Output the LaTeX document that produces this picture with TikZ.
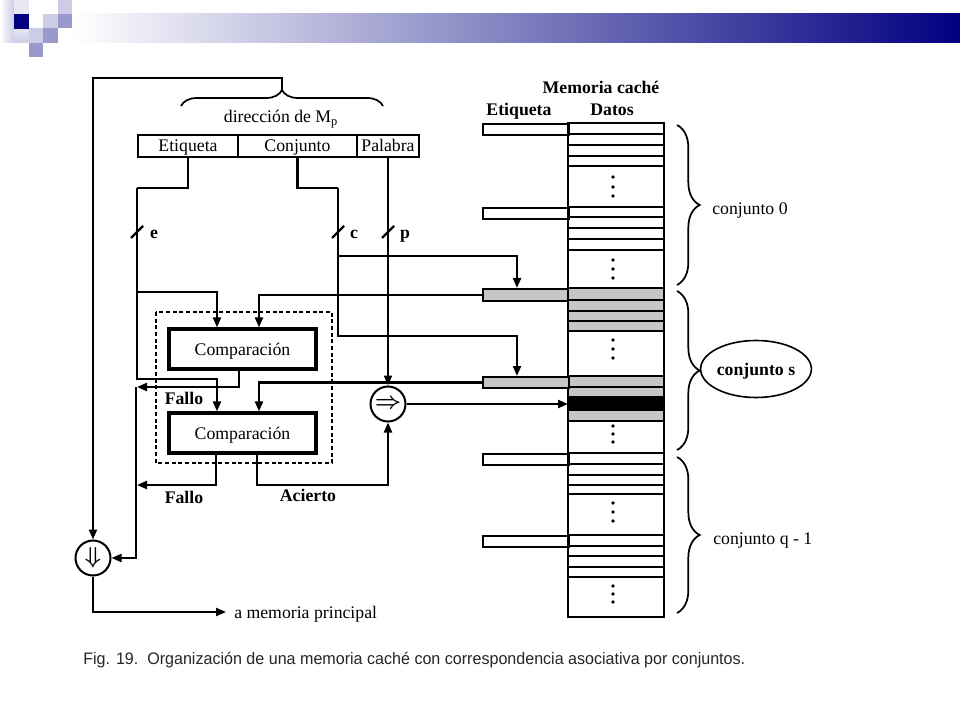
\documentclass[tikz,border=0pt]{standalone}
\usepackage{fontspec}
\setmainfont{Liberation Serif}
\newfontfamily\capfont{Liberation Sans}
\usetikzlibrary{arrows.meta,decorations.pathreplacing,shapes.geometric,calc}
\definecolor{navy}{HTML}{000080}
\definecolor{lavA}{HTML}{CCCCE6}
\definecolor{lavB}{HTML}{9999CC}
\begin{document}
\begin{tikzpicture}[x=0.75pt,y=-0.75pt,
  wire/.style={line width=1.6pt},
  arr/.style={wire,-{Triangle[length=7.5pt,width=6pt]}},
  txt/.style={inner sep=0pt,text height=10pt,text depth=1pt,font=\fontsize{13.3}{15}\selectfont},
  btxt/.style={inner sep=0pt,text height=10pt,text depth=1pt,font=\fontsize{13.3}{15}\selectfont\bfseries},
  field/.style={draw,line width=2pt,minimum height=22*0.75pt,inner sep=0pt,text height=10pt,text depth=1pt,font=\fontsize{13.3}{15}\selectfont},
  cmpbox/.style={draw,line width=2.4pt,minimum width=147*0.75pt,minimum height=40*0.75pt,inner sep=0pt,text height=10pt,text depth=1pt,font=\fontsize{13.3}{15}\selectfont},
  opcirc/.style={circle,draw,line width=1.5pt,minimum size=35*0.75pt,inner sep=0pt,font=\fontsize{17}{18}\selectfont\boldmath},
  tagrow/.style={draw,line width=1.4pt,minimum width=86*0.75pt,minimum height=11*0.75pt,inner sep=0pt,anchor=north west},
  shtag/.style={tagrow,fill=gray!45},
  rowline/.style={line width=1.4pt},
  cdot/.style={circle,fill,inner sep=0pt,minimum size=2.8pt},
  bracedec/.style={decorate,decoration={brace,amplitude=#1,aspect=0.5},line width=1.3pt},
]
\fill[white] (0,0) rectangle (960,720);
\useasboundingbox (0,0) rectangle (960,720);

% header decoration
\shade[left color=white,middle color=navy!20,right color=navy] (72,14) rectangle (960,43);
\shade[left color=white,right color=lavA] (0,0) rectangle (14,43);
\fill[lavA!45] (14,0) rectangle (29,14);
\shade[top color=lavA!50,bottom color=lavA] (14,29) rectangle (29,43);
\fill[navy] (14,14) rectangle (29,29);
\fill[lavA] (58,0) rectangle (72,14);
\fill[lavA] (43,14) rectangle (57.5,28.5);
\fill[lavB] (57.5,14) rectangle (72,28.5);
\fill[lavB] (43,28.5) rectangle (57.5,43);
\fill[lavA] (29,28.5) rectangle (43,43);
\fill[lavB] (29,43) rectangle (43,57);

% address
\node[field,minimum width=100*0.75pt] (etiq) at (188,146) {Etiqueta};
\node[field,minimum width=119*0.75pt] (conj) at (297.5,146) {Conjunto};
\node[field,minimum width=62*0.75pt] (pal) at (388,146) {Palabra};
\draw[bracedec=12pt] (181,106) -- (383,106);
\node[txt] (dir) at (281,117) {dirección de M\textsubscript{p}};
\coordinate (btip) at (282,90);

% comparators
\draw[line width=1.1pt,dash pattern=on 3pt off 2pt] (156,312) rectangle (332,463);
\node[cmpbox] (comp1) at (242.5,349) {Comparación};
\node[cmpbox] (comp2) at (242.5,433) {Comparación};
\node[opcirc] (circR) at (388,404) {$\Rightarrow$};
\node[opcirc] (circD) at (93,558) {$\Downarrow$};

% cache memory
\node[btxt] (mc) at (601,88) {Memoria caché};
\node[btxt] (et) at (519,110) {Etiqueta};
\node[btxt] (da) at (612,110) {Datos};
\draw[rowline] (568,123) rectangle (664,617);
% conjunto 0
\node[tagrow] (t0a) at (482,123) {};
\node[tagrow] (t0b) at (482,207) {};
\foreach \y in {134,145,156,166,207,217,228,239,250} \draw[rowline] (568,\y) -- (664,\y);
\foreach \y in {177,187,196,260,269,278} \node[cdot] at (613,\y) {};
% conjunto s
\node[shtag,minimum height=12*0.75pt] (tS1) at (482,288) {};
\foreach \a/\b in {288/300,300/311,311/321,321/331,376/387,387/397,410/421}
  \draw[rowline,fill=gray!45] (568,\a) rectangle (664,\b);
\draw[rowline,fill=black] (568,397) rectangle (664,410);
\node[shtag] (tS2) at (482,376) {};
\foreach \y in {340,349,358,426,434,442} \node[cdot] at (613,\y) {};
% conjunto q-1
\node[tagrow] (tQa) at (482,453) {};
\node[tagrow] (tQb) at (482,535) {};
\foreach \y in {453,464,475,485,494,535,546,556,567,577} \draw[rowline] (568,\y) -- (664,\y);
\foreach \y in {503,512,521,586,594,602} \node[cdot] at (613,\y) {};

% braces and set labels
\draw[bracedec=17pt] (677,125) -- (677,285);
\draw[bracedec=17pt] (677,291) -- (677,450);
\draw[bracedec=17pt] (677,457) -- (677,613);
\node[txt,anchor=west] (k0) at (712,209) {conjunto 0};
\node[draw,ellipse,line width=1.2pt,minimum width=96*0.75pt,minimum height=57*0.75pt,inner sep=0pt,text height=10pt,text depth=1pt,font=\fontsize{13.3}{15}\selectfont\bfseries] (ks) at (756,369) {conjunto s};
\node[txt,anchor=west] (kq) at (713,538) {conjunto q - 1};

% helper x positions
\coordinate (xA) at (217,0);
\coordinate (xB) at (259,0);
\coordinate (xC) at (517,0);
\coordinate (xF1) at (239,0);
\coordinate (xF2) at (216,0);
\coordinate (xAc) at (257,0);
\coordinate (ej) at (137,188);
\coordinate (cj) at (338,188);

% connectors
\draw[arr] (btip) |- (93,78) -- (circD.north);
\draw[wire] (etiq.south) |- (ej);
\draw[arr] (ej) -- (137,379) -- (217,379) -- (xA |- comp2.north);
\draw[arr] (137,292) -- (217,292) -- (xA |- comp1.north);
\draw[wire] (conj.south) |- (cj);
\draw[arr] (cj) -- (338,336) -- (517,336) -- (xC |- tS2.north);
\draw[arr] (338,256) -- (517,256) -- (xC |- tS1.north);
\draw[arr] (pal.south) -- (circR.north);
\draw[arr] (tS1.west) -| (xB |- comp1.north);
\draw[arr] (tS2.west) -| (xB |- comp2.north);
\coordinate (blk) at (568,404);
\draw[arr] (circR.east) -- (blk);
\draw[arr] (xF1 |- comp1.south) |- (137,387);
\draw[arr] (136,387) -- (136,558) -- (circD.east);
\draw[arr] (xF2 |- comp2.south) |- (137,485);
\draw[arr] (xAc |- comp2.south) |- (388,485) -- (circR.south);
\node[txt,anchor=west] (mp) at (234,612) {a memoria principal};
\draw[arr] (circD.south) |- ([xshift=-6pt]mp.west);

% slashes
\draw[wire] (131,238) -- (143,226);
\draw[wire] (332,238) -- (344,226);
\draw[wire] (382,238) -- (394,226);
\node[btxt] (le) at (154,233) {e};
\node[btxt] (lc) at (354,233) {c};
\node[btxt] (lp) at (405,233) {p};
\node[btxt] (fa1) at (184,398) {Fallo};
\node[btxt] (fa2) at (184,497) {Fallo};
\node[btxt] (ac) at (308,495) {Acierto};

% caption
\node[anchor=west,inner sep=0pt,text=black!85] (cap) at (83,660) {\resizebox{496.5pt}{\height}{\capfont\fontsize{12.5}{14}\selectfont Fig. 19.\ \ Organización de una memoria caché con correspondencia asociativa por conjuntos.}};
\end{tikzpicture}
\end{document}
